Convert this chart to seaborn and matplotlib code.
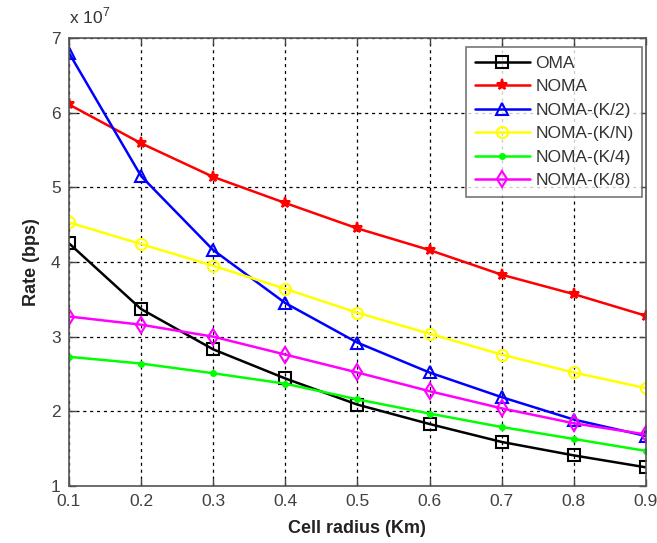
import numpy as np
import pandas as pd
import matplotlib
matplotlib.use("Agg")
import matplotlib.pyplot as plt
import seaborn as sns
from matplotlib.ticker import FuncFormatter

# Cell radius (km)
radius = [0.1, 0.2, 0.3, 0.4, 0.5, 0.6, 0.7, 0.8, 0.9]

# Achievable rate, in units of 1e7 bps
oma      = [4.25, 3.37, 2.83, 2.44, 2.09, 1.83, 1.59, 1.41, 1.25]
noma     = [6.11, 5.59, 5.14, 4.79, 4.45, 4.16, 3.83, 3.57, 3.28]
noma_k2  = [6.80, 5.15, 4.16, 3.45, 2.92, 2.52, 2.19, 1.89, 1.67]
noma_kn  = [4.53, 4.24, 3.95, 3.64, 3.32, 3.04, 2.76, 2.52, 2.31]
noma_k4  = [2.73, 2.64, 2.51, 2.37, 2.16, 1.97, 1.79, 1.63, 1.47]
noma_k8  = [3.27, 3.16, 3.00, 2.76, 2.52, 2.27, 2.04, 1.84, 1.69]

series_names = ["OMA", "NOMA", "NOMA-(K/2)", "NOMA-(K/N)", "NOMA-(K/4)", "NOMA-(K/8)"]
series_vals = [oma, noma, noma_k2, noma_kn, noma_k4, noma_k8]

colors = ["black", "#ff0000", "#0000ff", "#ffff00", "#00ff00", "#ff00ff"]
markers = ["s", "*", "^", "o", ".", "d"]
msizes = [8, 8, 8, 8, 7, 8]
filled = [False, True, False, False, True, False]

df = pd.concat(
    [pd.DataFrame({"radius": radius, "rate": np.array(v) * 1e7, "scheme": n})
     for n, v in zip(series_names, series_vals)],
    ignore_index=True,
)

sns.set_theme(style="white")
plt.rcParams["font.family"] = ["Liberation Sans", "DejaVu Sans"]
plt.rcParams["mathtext.fontset"] = "custom"
plt.rcParams["mathtext.rm"] = "Liberation Sans"

fig = plt.figure(figsize=(6.57, 5.43), dpi=100)
ax = fig.add_axes([0.105, 0.105, 0.878, 0.825])

for name, c, m, ms, f in zip(series_names, colors, markers, msizes, filled):
    sub = df[df["scheme"] == name]
    sns.lineplot(
        data=sub, x="radius", y="rate", ax=ax, color=c, label=name,
        marker=m, markersize=ms, linewidth=1.8,
        markerfacecolor=c if f else "none", markeredgecolor=c,
        markeredgewidth=1.5, estimator=None, sort=False,
    )

ax.set_xlim(0.1, 0.9)
ax.set_ylim(1e7, 7e7)
ax.set_xticks(radius)
ax.set_xticklabels([f"{r:.1f}" for r in radius])
ax.set_yticks(np.arange(1, 8) * 1e7)
ax.yaxis.set_major_formatter(FuncFormatter(lambda v, p: f"{v / 1e7:g}"))

# exponent label above the y axis
ax.text(0.0, 1.025, r"x 10$^{7}$", transform=ax.transAxes, fontsize=12.5,
        color="#333333", ha="left", va="bottom")

ax.grid(True, color="black", linestyle=(0, (2.5, 3)), linewidth=0.9)
ax.tick_params(axis="both", direction="in", length=5, width=1, color="#444444",
               labelsize=12.5, labelcolor="#404040", top=True, right=True,
               bottom=True, left=True, pad=6)
for s in ax.spines.values():
    s.set_color("#555555")
    s.set_linewidth(1.2)

ax.set_xlabel("Cell radius (Km)", fontsize=13, fontweight="bold", color="#222222", labelpad=8)
ax.set_ylabel("Rate (bps)", fontsize=13, fontweight="bold", color="#222222", labelpad=8)

leg = ax.legend(loc="upper right", bbox_to_anchor=(1.003, 0.992), fontsize=12.5,
                frameon=True, fancybox=False, edgecolor="#555555",
                handlelength=3.2, labelspacing=0.48, borderpad=0.5,
                handletextpad=0.3, borderaxespad=0.3)
leg.get_frame().set_linewidth(1.2)
for t in leg.get_texts():
    t.set_color("#333333")

fig.savefig("out.png", dpi=100)
